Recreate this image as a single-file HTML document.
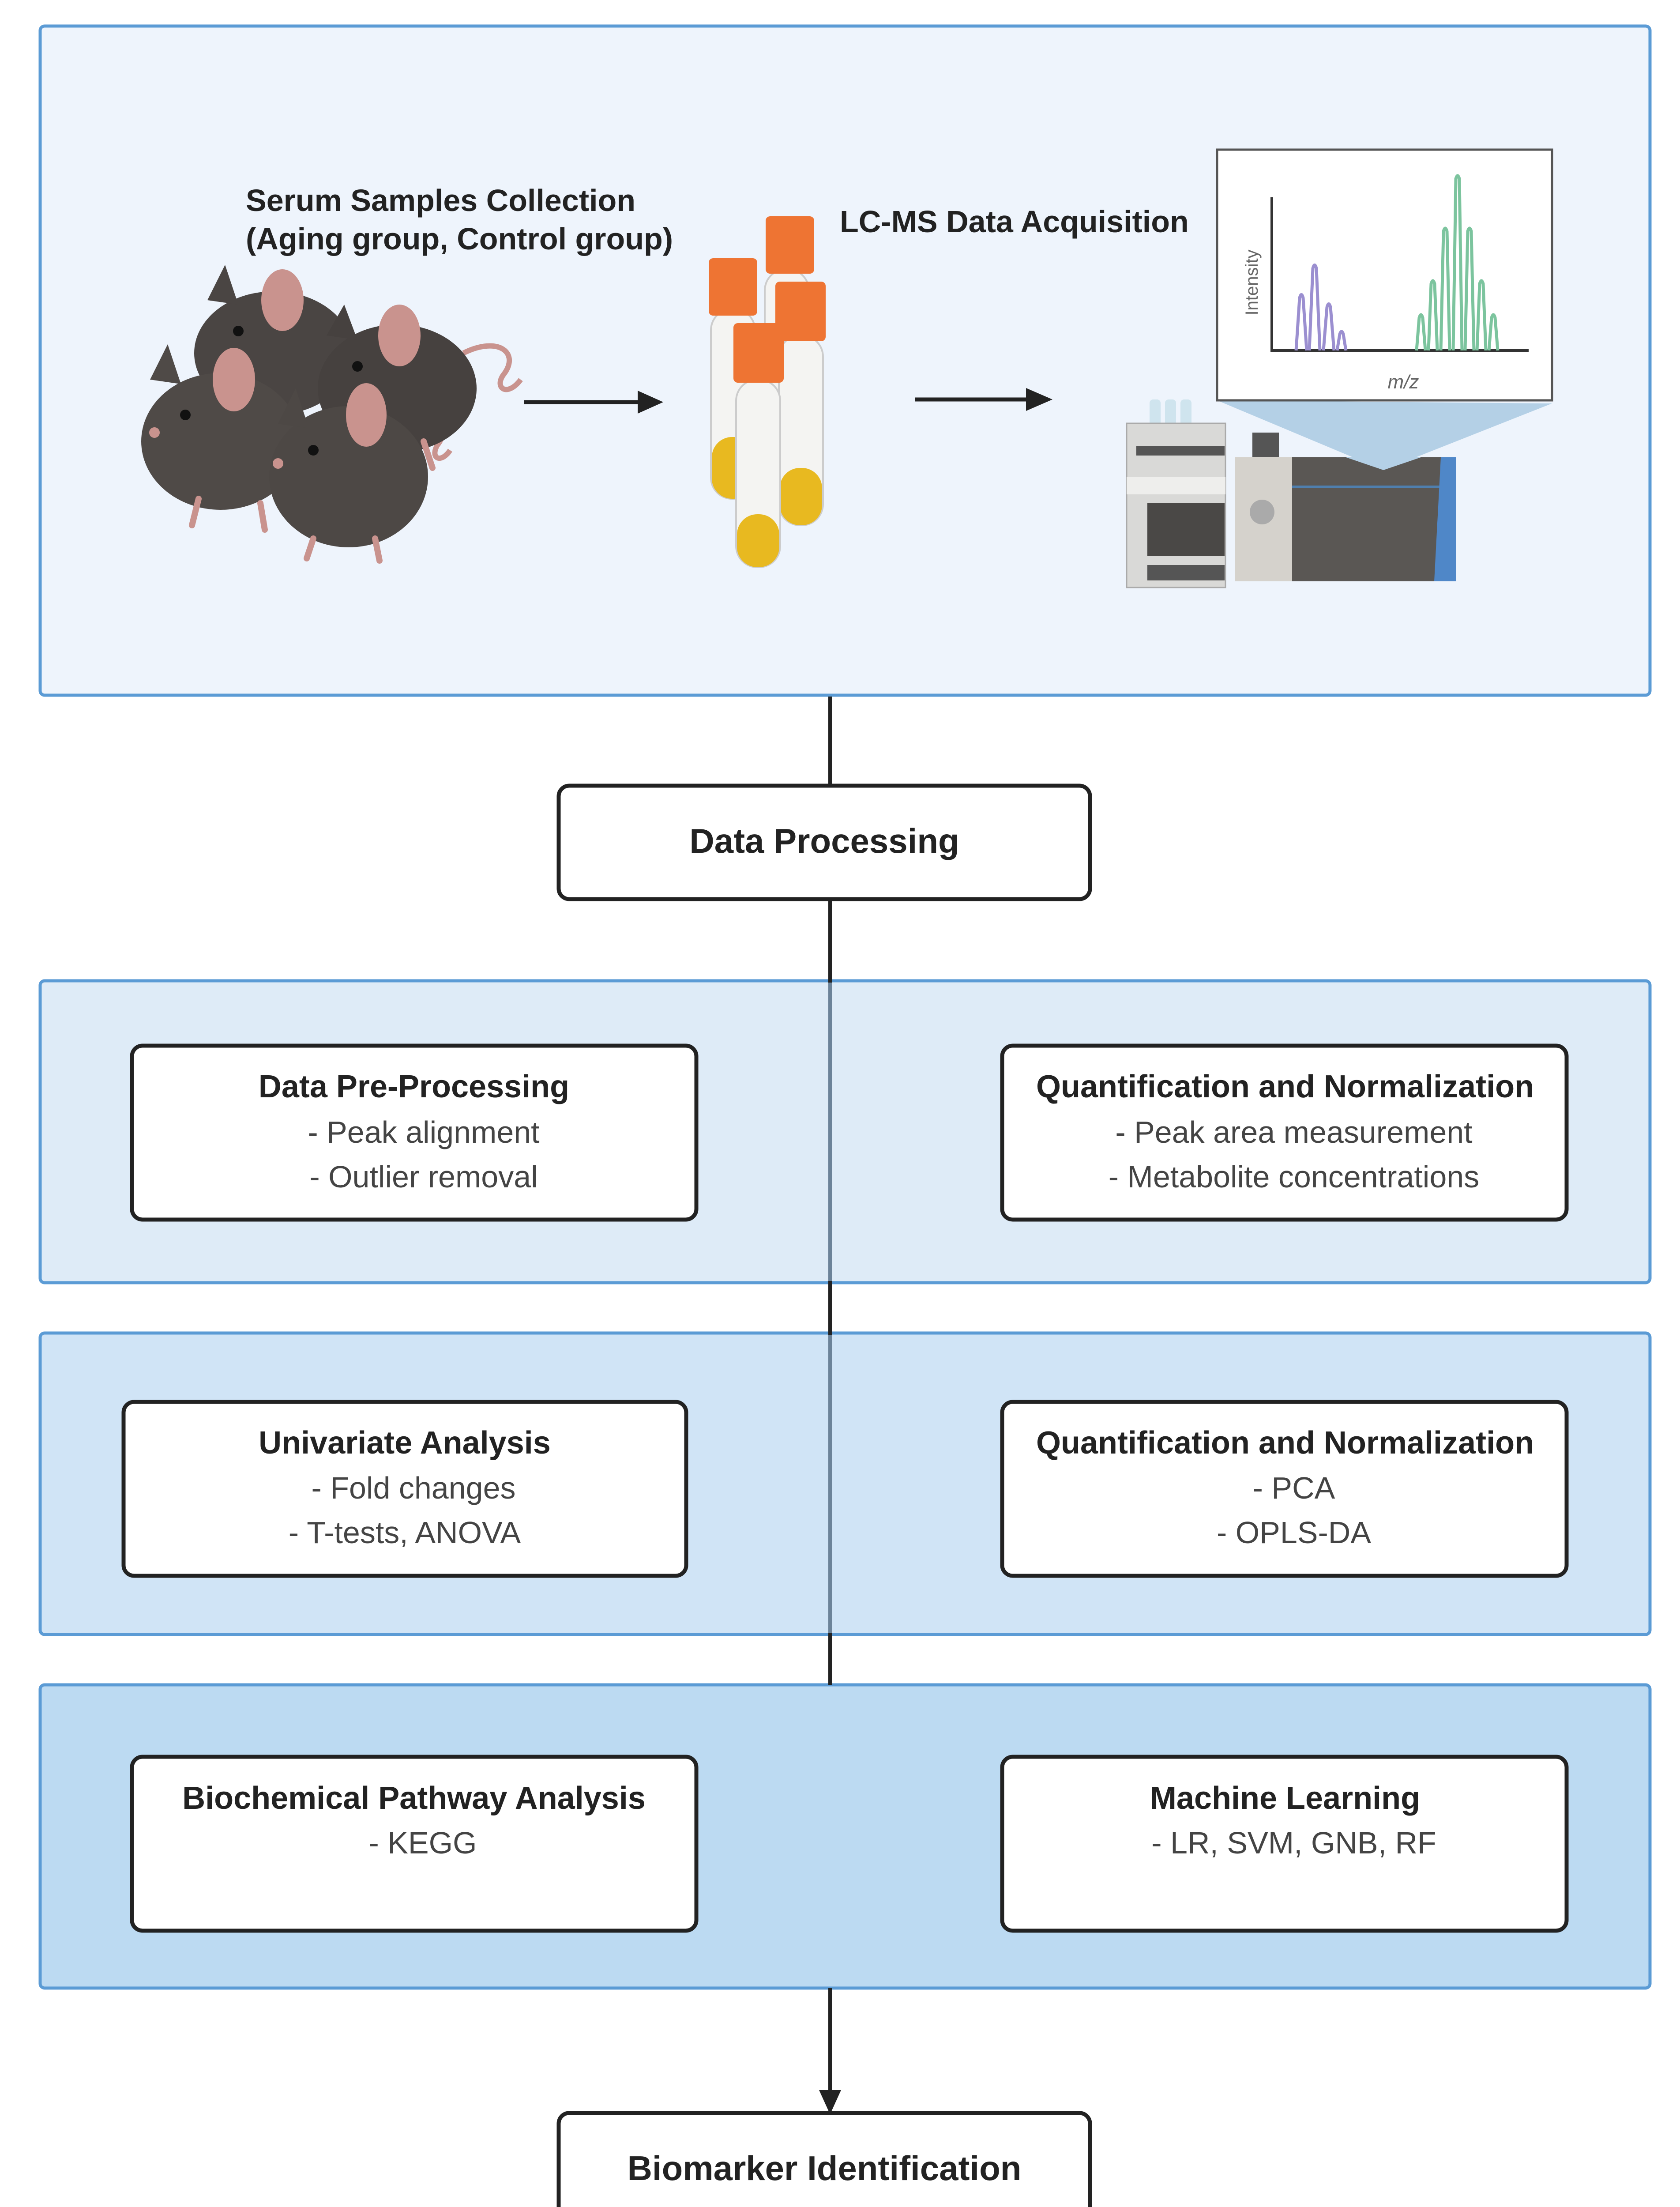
<!DOCTYPE html>
<html><head><meta charset="utf-8"><style>
html,body{margin:0;padding:0;background:#fff;width:3807px;height:5101px;overflow:hidden;}
svg{display:block;position:absolute;left:0;top:0;}
text{font-family:"Liberation Sans",Arial,sans-serif;fill:#222;}
.t{font-weight:bold;font-size:72px;}
.r{font-size:70px;fill:#444;}
</style></head><body>
<svg width="3807" height="5101" viewBox="0 0 3807 5101" xmlns="http://www.w3.org/2000/svg">
<rect x="91" y="59" width="3648" height="1516" rx="10" fill="#eef4fc" stroke="#5b9bd5" stroke-width="7"/>
<rect x="91" y="2222" width="3648" height="684" rx="10" fill="#deebf7" stroke="#5b9bd5" stroke-width="7"/>
<rect x="91" y="3020" width="3648" height="683" rx="10" fill="#d0e4f6" stroke="#5b9bd5" stroke-width="7"/>
<rect x="91" y="3817" width="3648" height="687" rx="10" fill="#bcdaf2" stroke="#5b9bd5" stroke-width="7"/>
<line x1="1881" y1="1578" x2="1881" y2="3817" stroke="#222" stroke-width="8"/>
<line x1="1881" y1="2226" x2="1881" y2="2902" stroke="#6c8399" stroke-width="8"/>
<line x1="1881" y1="3024" x2="1881" y2="3699" stroke="#6c8399" stroke-width="8"/>
<line x1="1881" y1="4504" x2="1881" y2="4740" stroke="#222" stroke-width="8"/>
<polygon points="1856,4735 1906,4735 1881,4790" fill="#222"/>
<rect x="1266" y="1780" width="1204" height="257" rx="24" fill="#fff" stroke="#222" stroke-width="9"/>
<text class="t" x="1868" y="1932" text-anchor="middle" style="font-size:78px">Data Processing</text>
<g fill="#fff" stroke="#222" stroke-width="9">
<rect x="299" y="2369" width="1279" height="394" rx="24"/>
<rect x="2271" y="2369" width="1279" height="394" rx="24"/>
<rect x="280" y="3176" width="1275" height="394" rx="24"/>
<rect x="2271" y="3176" width="1279" height="394" rx="24"/>
<rect x="299" y="3980" width="1279" height="394" rx="24"/>
<rect x="2271" y="3980" width="1279" height="394" rx="24"/>
<rect x="1266" y="4787" width="1204" height="257" rx="24"/>
</g>
<g text-anchor="middle">
<text class="t" x="938" y="2486">Data Pre-Processing</text>
<text class="r" x="960" y="2589">- Peak alignment</text>
<text class="r" x="960" y="2690">- Outlier removal</text>
<text class="t" x="2912" y="2486">Quantification and Normalization</text>
<text class="r" x="2932" y="2589">- Peak area measurement</text>
<text class="r" x="2932" y="2690">- Metabolite concentrations</text>
<text class="t" x="917" y="3293">Univariate Analysis</text>
<text class="r" x="937" y="3395">- Fold changes</text>
<text class="r" x="917" y="3496">- T-tests, ANOVA</text>
<text class="t" x="2912" y="3293">Quantification and Normalization</text>
<text class="r" x="2932" y="3395">- PCA</text>
<text class="r" x="2932" y="3496">- OPLS-DA</text>
<text class="t" x="938" y="4098">Biochemical Pathway Analysis</text>
<text class="r" x="958" y="4199">- KEGG</text>
<text class="t" x="2912" y="4098">Machine Learning</text>
<text class="r" x="2932" y="4199">- LR, SVM, GNB, RF</text>
<text class="t" x="1868" y="4939" style="font-size:78px">Biomarker Identification</text>
</g>
<text class="t" x="557" y="478" style="font-size:70px">Serum Samples Collection</text>
<text class="t" x="557" y="565" style="font-size:70px">(Aging group, Control group)</text>
<text class="t" x="1903" y="526" style="font-size:70px">LC-MS Data Acquisition</text>
<line x1="1188" y1="911" x2="1450" y2="911" stroke="#222" stroke-width="9"/>
<polygon points="1445,885 1503,911 1445,937" fill="#222"/>
<line x1="2073" y1="905" x2="2330" y2="905" stroke="#222" stroke-width="9"/>
<polygon points="2325,879 2385,905 2325,931" fill="#222"/>
<g>
 <path d="M1050,800 C1130,760 1180,800 1140,850 C1120,880 1150,900 1180,860" fill="none" stroke="#c9938e" stroke-width="12"/>
 <path d="M900,960 C980,920 1030,960 990,1010 C975,1040 1000,1050 1020,1020" fill="none" stroke="#c9938e" stroke-width="12"/>
 <ellipse cx="620" cy="800" rx="180" ry="140" fill="#4a4543"/>
 <path d="M470,680 L510,600 L540,690 Z" fill="#4a4543"/>
 <ellipse cx="640" cy="680" rx="48" ry="70" fill="#c9938e"/>
 <circle cx="540" cy="750" r="12" fill="#111"/>
 <ellipse cx="900" cy="880" rx="180" ry="145" fill="#46413f"/>
 <path d="M740,760 L780,690 L810,770 Z" fill="#46413f"/>
 <ellipse cx="905" cy="760" rx="48" ry="70" fill="#c9938e"/>
 <circle cx="810" cy="830" r="12" fill="#111"/>
 <ellipse cx="500" cy="1000" rx="180" ry="155" fill="#4f4a47"/>
 <path d="M340,860 L380,780 L410,870 Z" fill="#4f4a47"/>
 <ellipse cx="530" cy="860" rx="48" ry="72" fill="#c9938e"/>
 <circle cx="420" cy="940" r="12" fill="#111"/>
 <circle cx="350" cy="980" r="12" fill="#c9938e"/>
 <ellipse cx="790" cy="1080" rx="180" ry="160" fill="#4d4845"/>
 <path d="M630,960 L670,880 L700,970 Z" fill="#4d4845"/>
 <ellipse cx="830" cy="940" rx="46" ry="72" fill="#c9938e"/>
 <circle cx="710" cy="1020" r="12" fill="#111"/>
 <circle cx="630" cy="1050" r="12" fill="#c9938e"/>
 <g stroke="#c9938e" stroke-width="14" stroke-linecap="round">
  <line x1="450" y1="1130" x2="435" y2="1190"/><line x1="590" y1="1140" x2="600" y2="1200"/>
  <line x1="710" y1="1220" x2="695" y2="1265"/><line x1="850" y1="1220" x2="860" y2="1270"/>
  <line x1="960" y1="1000" x2="980" y2="1060"/>
 </g>
</g>
<g>
 <rect x="1611" y="700" width="100" height="430" rx="48" fill="#f4f4f2" stroke="#ccc" stroke-width="4"/>
 <rect x="1613" y="990" width="96" height="140" rx="46" fill="#e8b920"/>
 <rect x="1606" y="585" width="110" height="130" rx="10" fill="#ee7433"/>
 <rect x="1733" y="610" width="100" height="490" rx="48" fill="#f4f4f2" stroke="#ccc" stroke-width="4"/>
 <rect x="1735" y="490" width="110" height="130" rx="10" fill="#ee7433"/>
 <rect x="1765" y="760" width="100" height="430" rx="48" fill="#f4f4f2" stroke="#ccc" stroke-width="4"/>
 <rect x="1767" y="1060" width="96" height="130" rx="46" fill="#e8b920"/>
 <rect x="1757" y="638" width="114" height="135" rx="10" fill="#ee7433"/>
 <rect x="1668" y="860" width="100" height="425" rx="48" fill="#f4f4f2" stroke="#ccc" stroke-width="4"/>
 <rect x="1670" y="1165" width="96" height="120" rx="46" fill="#e8b920"/>
 <rect x="1662" y="732" width="114" height="135" rx="10" fill="#ee7433"/>
</g>
<polygon points="2758,907 3517,914 3135,1065" fill="#b4d0e6"/>
<g>
 <rect x="2605" y="905" width="25" height="60" rx="8" fill="#cfe4ee"/>
 <rect x="2640" y="905" width="25" height="60" rx="8" fill="#cfe4ee"/>
 <rect x="2675" y="905" width="25" height="60" rx="8" fill="#cfe4ee"/>
 <rect x="2553" y="959" width="224" height="372" fill="#d9d9d7" stroke="#aaa" stroke-width="3"/>
 <rect x="2575" y="1010" width="200" height="22" fill="#555"/>
 <rect x="2553" y="1080" width="224" height="40" fill="#eeeeec"/>
 <rect x="2600" y="1140" width="175" height="120" fill="#4a4846"/>
 <rect x="2600" y="1280" width="175" height="35" fill="#555"/>
 <rect x="2798" y="1036" width="140" height="281" fill="#d5d2cc"/>
 <rect x="2838" y="980" width="60" height="55" fill="#555"/>
 <circle cx="2860" cy="1160" r="28" fill="#aaa"/>
 <rect x="2928" y="1036" width="365" height="281" fill="#5a5754"/>
 <rect x="2928" y="1100" width="350" height="6" fill="#4f7fae"/>
 <polygon points="3265,1036 3300,1036 3300,1317 3250,1317" fill="#4f87c8"/>
 <polygon points="3050,1036 3220,1036 3135,1065" fill="#b4d0e6"/>
</g>
<rect x="2758" y="339" width="759" height="568" fill="#fff" stroke="#555" stroke-width="5"/>
<line x1="2882" y1="447" x2="2882" y2="796" stroke="#333" stroke-width="6"/>
<line x1="2879" y1="794" x2="3464" y2="794" stroke="#333" stroke-width="6"/>
<text x="2850" y="640" transform="rotate(-90 2850 640)" text-anchor="middle" style="font-size:40px;fill:#666">Intensity</text>
<text x="3180" y="880" text-anchor="middle" style="font-size:44px;fill:#666;font-style:italic">m/z</text>
<g fill="none" stroke="#9b8fd0" stroke-width="7">
 <path d="M2937,794 L2945,675 Q2949,660 2953,675 L2961,794"/>
 <path d="M2967,794 L2975,608 Q2979,593 2983,608 L2991,794"/>
 <path d="M2999,794 L3007,696 Q3011,681 3015,696 L3023,794"/>
 <path d="M3030,794 L3036,757 Q3040,745 3044,757 L3050,794"/>
</g>
<g fill="none" stroke="#7cc49e" stroke-width="7">
 <path d="M3210,794 L3216,720 Q3220,706 3224,720 L3230,794"/>
 <path d="M3237,794 L3243,643 Q3247,629 3251,643 L3257,794"/>
 <path d="M3265,794 L3271,524 Q3275,510 3279,524 L3285,794"/>
 <path d="M3293,794 L3299,405 Q3303,391 3307,405 L3313,794"/>
 <path d="M3320,794 L3326,524 Q3330,510 3334,524 L3340,794"/>
 <path d="M3347,794 L3353,643 Q3357,629 3361,643 L3367,794"/>
 <path d="M3374,794 L3380,720 Q3384,706 3388,720 L3394,794"/>
</g>
</svg>
</body></html>
